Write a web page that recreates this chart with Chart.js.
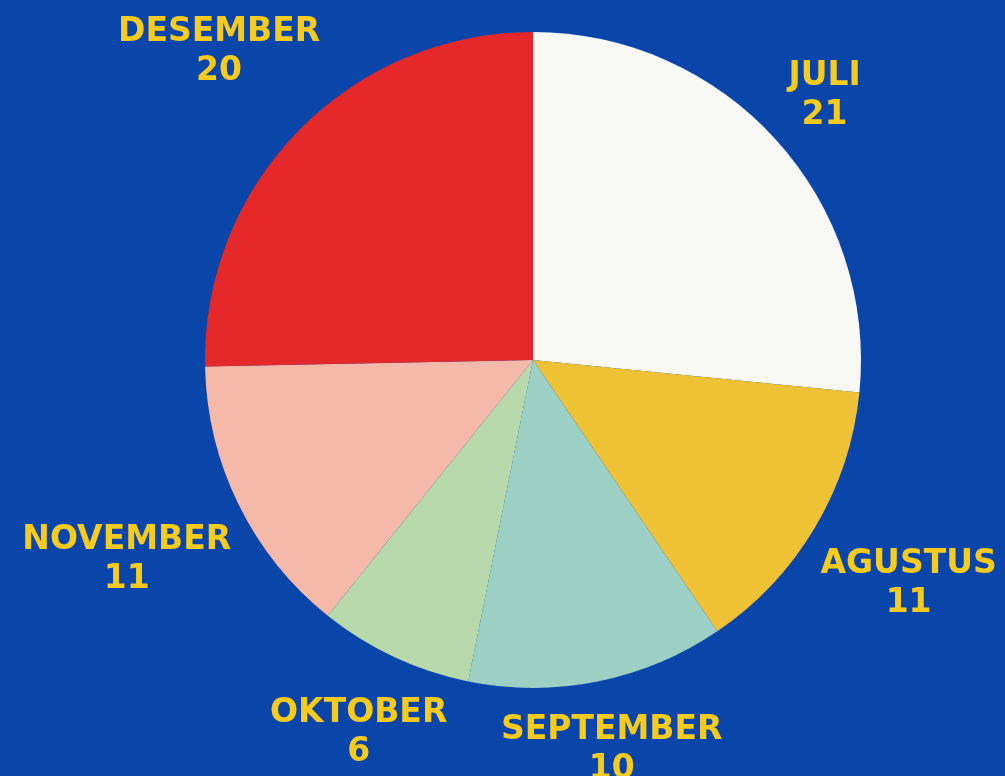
<!DOCTYPE html>
<html>
<head>
<meta charset="utf-8">
<script src="https://cdn.jsdelivr.net/npm/chart.js@4"></script>
<style>
    html, body { margin: 0; padding: 0; background: #0a45aa; }
    #wrap { width: 1005px; height: 776px; }
</style>
</head>
<body>
<div id="wrap"><canvas id="pieChart"></canvas></div>
<script>
// data
const months = ['JULI', 'AGUSTUS', 'SEPTEMBER', 'OKTOBER', 'NOVEMBER', 'DESEMBER'];
const counts = [21, 11, 10, 6, 11, 20];
const sliceColors = ['#f8f8f5', '#eec234', '#9dd0c4', '#b6d8aa', '#f4b9a9', '#e5292a'];

const labelColor = '#f6cb1d';
const labelFont = 'bold 33px "DejaVu Sans"';
const lineGap = 39;

// labels outside each slice, pushed out along the middle angle
const outsideLabels = {
    id: 'outsideLabels',
    afterDatasetsDraw(chart) {
        const ctx = chart.ctx;
        const meta = chart.getDatasetMeta(0);
        ctx.save();
        ctx.font = labelFont;
        ctx.fillStyle = labelColor;
        ctx.textAlign = 'center';
        ctx.textBaseline = 'middle';

        meta.data.forEach((arc, i) => {
            const p = arc.getProps(['x', 'y', 'startAngle', 'endAngle', 'outerRadius'], true);
            const mid = (p.startAngle + p.endAngle) / 2;
            const name = chart.data.labels[i];
            const value = String(chart.data.datasets[0].data[i]);
            const halfW = Math.max(ctx.measureText(name).width, ctx.measureText(value).width) / 2;
            const halfH = 32;
            const r = p.outerRadius + 17 + Math.abs(Math.cos(mid)) * halfW + Math.abs(Math.sin(mid)) * halfH;
            const cx = p.x + Math.cos(mid) * r;
            const cy = p.y + Math.sin(mid) * r;
            ctx.fillText(name, cx, cy - lineGap / 2);
            ctx.fillText(value, cx, cy + lineGap / 2);
        });
        ctx.restore();
    }
};

new Chart(document.getElementById('pieChart'), {
    type: 'pie',
    data: {
        labels: months,
        datasets: [{
            data: counts,
            backgroundColor: sliceColors,
            borderWidth: 0
        }]
    },
    options: {
        responsive: true,
        maintainAspectRatio: false,
        animation: false,
        layout: {
            padding: { top: 32, bottom: 88, left: 205, right: 144 }
        },
        plugins: {
            legend: { display: false },
            tooltip: { enabled: false }
        }
    },
    plugins: [outsideLabels]
});
</script>
</body>
</html>
